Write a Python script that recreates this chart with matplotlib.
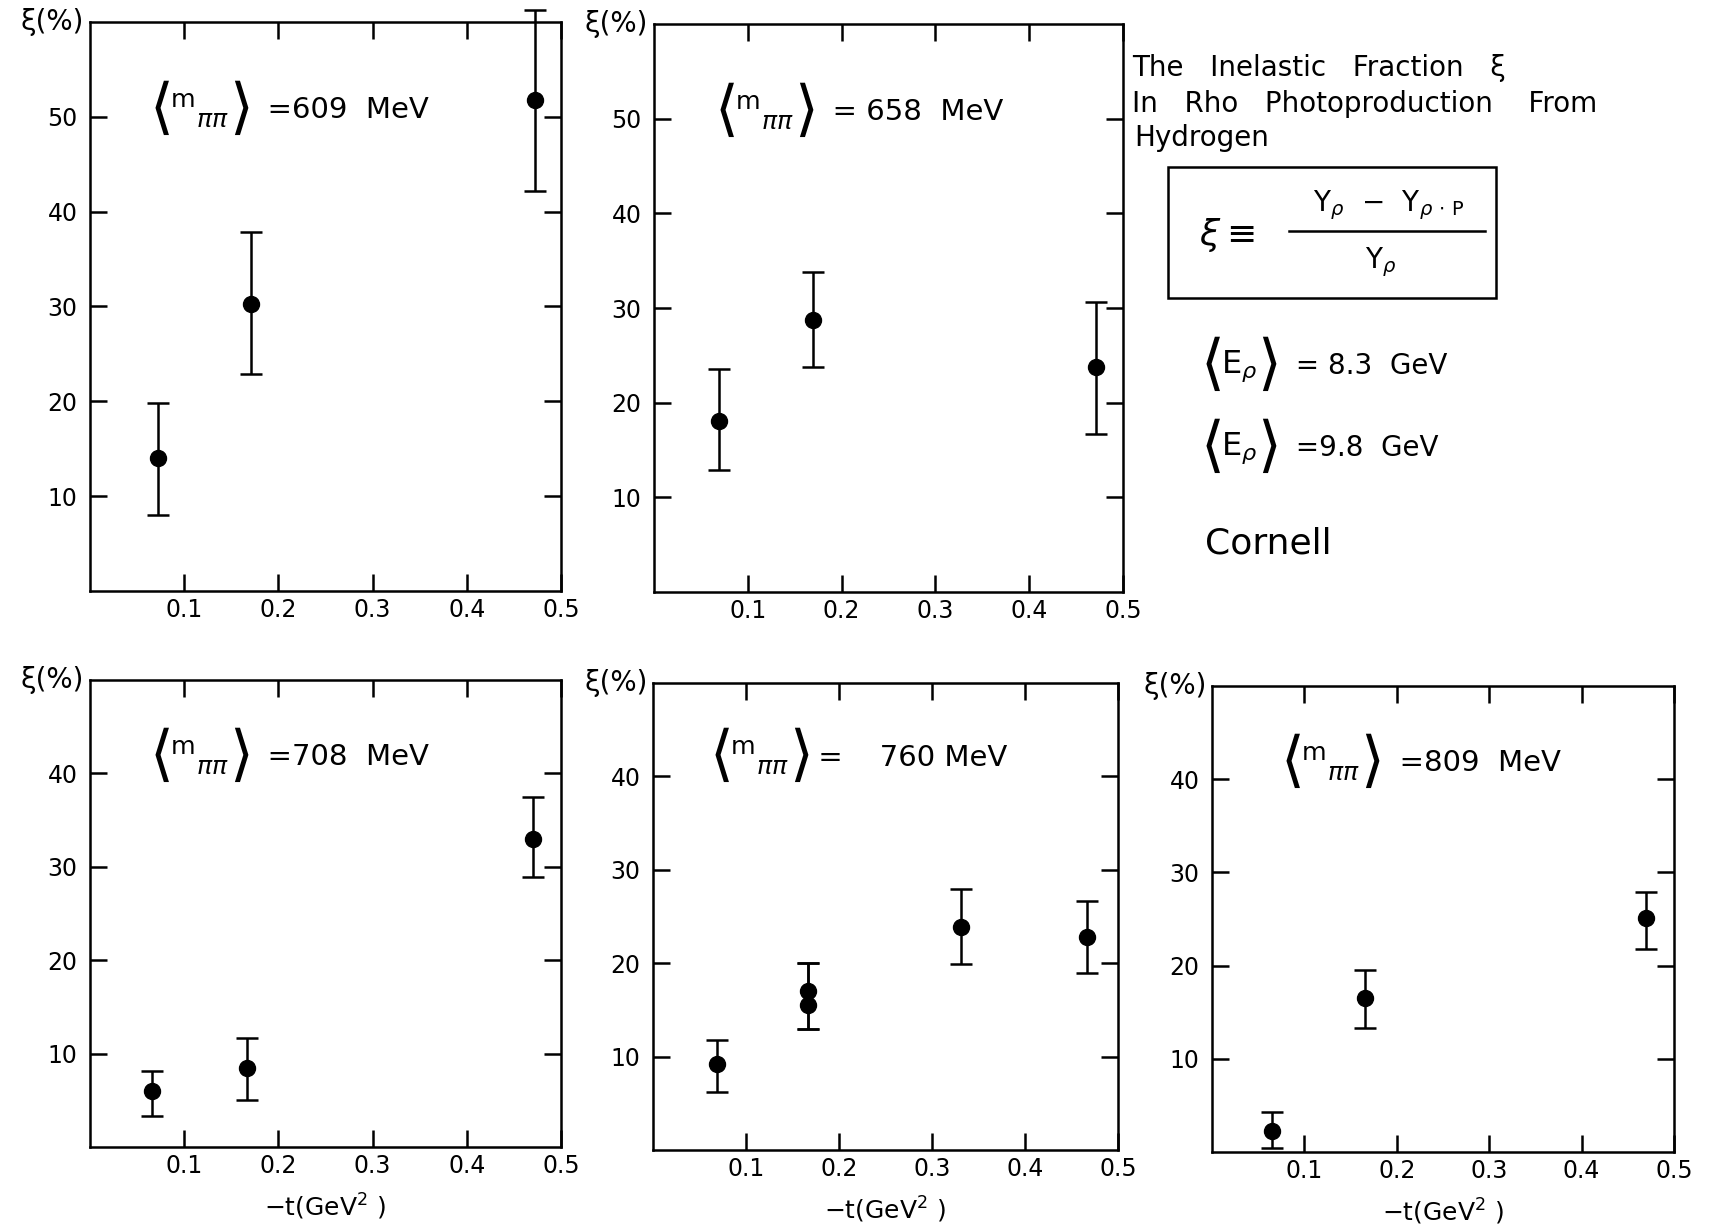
import matplotlib
matplotlib.use("Agg")
import matplotlib.pyplot as plt
from matplotlib.patches import Rectangle
from matplotlib.lines import Line2D

plt.rcParams['font.family'] = ['DejaVu Sans']
plt.rcParams['mathtext.fontset'] = 'dejavusans'

# data: -t (GeV^2), xi (%), error-bar lower / upper ends
t_609 = [0.072, 0.171, 0.472]
xi_609 = [14.0, 30.3, 51.8]
lo_609 = [8.0, 22.9, 42.2]
hi_609 = [19.8, 37.9, 61.3]

t_658 = [0.069, 0.170, 0.471]
xi_658 = [18.1, 28.7, 23.8]
lo_658 = [12.9, 23.8, 16.7]
hi_658 = [23.6, 33.8, 30.6]

t_708 = [0.066, 0.167, 0.470]
xi_708 = [6.0, 8.5, 33.0]
lo_708 = [3.3, 5.0, 28.9]
hi_708 = [8.1, 11.7, 37.5]

t_760 = [0.069, 0.167, 0.167, 0.331, 0.467]
xi_760 = [9.2, 17.0, 15.5, 23.9, 22.8]
lo_760 = [6.2, 13.0, 13.0, 19.9, 19.0]
hi_760 = [11.8, 20.0, 20.0, 27.9, 26.7]

t_809 = [0.065, 0.166, 0.470]
xi_809 = [2.3, 16.5, 25.1]
lo_809 = [0.4, 13.3, 21.8]
hi_809 = [4.3, 19.5, 27.9]

x_ticks = [0.1, 0.2, 0.3, 0.4, 0.5]
x_ticklabels = ['0.1', '0.2', '0.3', '0.4', '0.5']
y_ticks_top = [10, 20, 30, 40, 50]
y_ticks_bottom = [10, 20, 30, 40]

W, H = 1715, 1232
fig = plt.figure(figsize=(W / 100, H / 100), dpi=100)


def px_axes(x0, x1, y0, y1):
    return fig.add_axes([x0 / W, 1 - y1 / H, (x1 - x0) / W, (y1 - y0) / H])


def bracket_label(ax, x, y, inner, rest, trans=None, isize=26, size=21,
                  bsize=44):
    # big angle brackets around a symbol, followed by plain text
    if trans is None:
        trans = ax.transAxes
    t1 = ax.text(x, y, r'$\langle$', transform=trans, fontsize=bsize,
                 ha='left', va='center')
    t2 = ax.annotate(inner, xy=(1, 0.5), xycoords=t1, fontsize=isize,
                     ha='left', va='center')
    t3 = ax.annotate(r'$\rangle$', xy=(1, 0.5), xycoords=t2, fontsize=bsize,
                     ha='left', va='center')
    ax.annotate(rest, xy=(1, 0.5), xycoords=t3, fontsize=size,
                ha='left', va='center')


def panel(ax, t, xi, lo, hi, ymax, yticks, label, lx, ly, xlabel=False):
    yerr = [[v - l for v, l in zip(xi, lo)], [h - v for v, h in zip(xi, hi)]]
    eb = ax.errorbar(t, xi, yerr=yerr, fmt='o', color='black', ms=11.5,
                     elinewidth=1.8, capsize=8, capthick=1.8)
    for art in eb.get_children():
        art.set_clip_on(False)
    ax.set_xlim(0, 0.5)
    ax.set_ylim(0, ymax)
    ax.set_xticks(x_ticks)
    ax.set_xticklabels(x_ticklabels)
    ax.set_yticks(yticks)
    ax.tick_params(direction='in', length=12, width=1.8, top=True, right=True,
                   labelsize=17)
    ax.tick_params(axis='x', pad=5)
    ax.tick_params(axis='y', pad=9)
    for s in ax.spines.values():
        s.set_linewidth(1.8)
    ax.text(-0.012, 1.0, 'ξ(%)', transform=ax.transAxes, ha='right',
            va='center', fontsize=20)
    bracket_label(ax, lx, ly, r'$^{\mathregular{m}}{}_{\pi\pi}$', label)
    if xlabel:
        ax.set_xlabel(r'$-$t(GeV$^2$ )', fontsize=18, labelpad=10)


axA = px_axes(90, 561, 22, 591)
panel(axA, t_609, xi_609, lo_609, hi_609, 60, y_ticks_top,
      '  =609  MeV', 0.125, 0.845)

axB = px_axes(654, 1123, 24, 592)
panel(axB, t_658, xi_658, lo_658, hi_658, 60, y_ticks_top,
      '  = 658  MeV', 0.128, 0.845)

axC = px_axes(90, 561, 680, 1147)
panel(axC, t_708, xi_708, lo_708, hi_708, 50, y_ticks_bottom,
      '  =708  MeV', 0.125, 0.835, xlabel=True)

axD = px_axes(653, 1118, 683, 1150)
panel(axD, t_760, xi_760, lo_760, hi_760, 50, y_ticks_bottom,
      ' =    760 MeV', 0.12, 0.84, xlabel=True)

axE = px_axes(1212, 1674, 686, 1152)
panel(axE, t_809, xi_809, lo_809, hi_809, 50, y_ticks_bottom,
      '  =809  MeV', 0.148, 0.834, xlabel=True)


def fx(x):
    return x / W


def fy(y):
    return 1 - y / H


# right-hand description block
fig.text(fx(1132), fy(68), 'The   Inelastic   Fraction   ξ', fontsize=20,
         ha='left', va='center')
fig.text(fx(1132), fy(104), 'In   Rho   Photoproduction    From', fontsize=20,
         ha='left', va='center')
fig.text(fx(1134), fy(138), 'Hydrogen', fontsize=20, ha='left', va='center')

fig.add_artist(Rectangle((fx(1168), fy(298)), fx(1496) - fx(1168),
                         fy(167) - fy(298), transform=fig.transFigure,
                         fill=False, lw=1.8, ec='black'))
fig.text(fx(1227), fy(235), r'$\xi \equiv$', fontsize=26, ha='center',
         va='center')
fig.text(fx(1389), fy(205),
         r'Y$_\rho$  $-$  Y$_{\rho\,\cdot\,\mathregular{P}}$',
         fontsize=20, ha='center', va='center')
fig.add_artist(Line2D([fx(1289), fx(1485)], [fy(231), fy(231)],
                      transform=fig.transFigure, color='black', lw=1.8))
fig.text(fx(1381), fy(262), r'Y$_\rho$', fontsize=20, ha='center',
         va='center')

figax = fig.add_axes([0, 0, 1, 1], facecolor='none')
figax.set_axis_off()
bracket_label(figax, fx(1200), fy(366), r'$\mathregular{E}_\rho$',
              '  = 8.3  GeV', trans=fig.transFigure, isize=23, size=20)
bracket_label(figax, fx(1200), fy(448), r'$\mathregular{E}_\rho$',
              '  =9.8  GeV', trans=fig.transFigure, isize=23, size=20)
fig.text(fx(1205), fy(544), 'Cornell', fontsize=26, ha='left', va='center')

fig.savefig('out.png', dpi=100)
